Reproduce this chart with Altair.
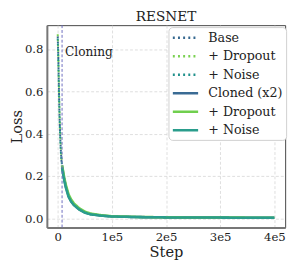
import altair as alt
import pandas as pd

# ---- data ----
steps_base = [0, 1000, 2000, 3000, 4000, 5000, 6000, 7000, 8000]
base = [0.86, 0.77, 0.64, 0.52, 0.43, 0.36, 0.31, 0.27, 0.25]
base_dropout = [0.87, 0.78, 0.66, 0.54, 0.45, 0.38, 0.32, 0.28, 0.26]
base_noise = [0.85, 0.76, 0.63, 0.51, 0.42, 0.35, 0.30, 0.27, 0.25]

steps_clone = [8000, 10000, 12000, 15000, 20000, 25000, 30000, 40000, 50000,
               60000, 80000, 100000, 150000, 200000, 250000, 300000, 350000, 400000]
cloned = [0.25, 0.215, 0.185, 0.15, 0.105, 0.080, 0.064, 0.042, 0.028,
          0.020, 0.013, 0.009, 0.006, 0.0045, 0.004, 0.0035, 0.003, 0.003]
cloned_dropout = [0.25, 0.222, 0.193, 0.158, 0.113, 0.088, 0.070, 0.047, 0.032,
                  0.023, 0.015, 0.010, 0.0065, 0.005, 0.0042, 0.0037, 0.0033, 0.0032]
cloned_noise = [0.24, 0.208, 0.180, 0.145, 0.102, 0.078, 0.062, 0.041, 0.027,
                0.019, 0.0125, 0.0088, 0.0058, 0.0045, 0.004, 0.0035, 0.003, 0.003]

clone_step = 8000
series_names = ["Base", "+ Dropout", "+ Noise", "Cloned (x2)", "+ Dropout ", "+ Noise "]
series_colors = ["#35688f", "#7ad151", "#21918c", "#3a6b94", "#70cf4e", "#2a9d8c"]
dot = [2, 3.3]
solid = [1, 0]
series_dash = [dot, dot, dot, solid, solid, solid]

x_ticks = [0, 100000, 200000, 300000, 400000]
y_ticks = [0.0, 0.2, 0.4, 0.6, 0.8]

rows = []
for name, vals in zip(series_names[:3], [base, base_dropout, base_noise]):
    for s, v in zip(steps_base, vals):
        rows.append({"series": name, "step": s, "loss": v, "kind": "pre"})
for name, vals in zip(series_names[3:], [cloned, cloned_dropout, cloned_noise]):
    for s, v in zip(steps_clone, vals):
        rows.append({"series": name, "step": s, "loss": v, "kind": "post"})
df = pd.DataFrame(rows)

FONT = "DejaVu Serif, Liberation Serif, serif"

legend = alt.Legend(orient="none", legendX=125, legendY=2,
                    symbolType="M-1,0H3", symbolSize=169, symbolStrokeWidth=2.5,
                    labelOffset=22, rowPadding=4, padding=3)

x_enc = alt.X("step:Q", title="Step",
              scale=alt.Scale(domain=[-20000, 420000], nice=False, zero=False),
              axis=alt.Axis(values=x_ticks,
                            labelExpr="datum.value == 0 ? '0' : (datum.value / 100000) + 'e5'"))
y_enc = alt.Y("loss:Q", title="Loss",
              scale=alt.Scale(domain=[-0.043, 0.913], nice=False, zero=False),
              axis=alt.Axis(values=y_ticks, format=".1f"))
color_enc = alt.Color("series:N", title=None,
                      scale=alt.Scale(domain=series_names, range=series_colors),
                      legend=legend)
dash_enc = alt.StrokeDash("series:N", title=None,
                          scale=alt.Scale(domain=series_names, range=series_dash),
                          legend=legend)

pre = alt.Chart(df[df.kind == "pre"]).mark_line(strokeWidth=2).encode(
    x=x_enc, y=y_enc, color=color_enc, strokeDash=dash_enc, detail="series:N")
post = alt.Chart(df[df.kind == "post"]).mark_line(strokeWidth=2.6).encode(
    x=x_enc, y=y_enc, color=color_enc, strokeDash=dash_enc, detail="series:N")

rule_df = pd.DataFrame({"step": [clone_step]})
rule = alt.Chart(rule_df).mark_rule(color="#6b6bbf", strokeWidth=1, strokeDash=[3, 2]).encode(
    x=alt.X("step:Q"))

text_df = pd.DataFrame({"step": [clone_step], "loss": [0.765], "label": ["Cloning"]})
text = alt.Chart(text_df).mark_text(align="left", baseline="alphabetic", dx=3,
                                    font=FONT, fontSize=12.5, color="#222").encode(
    x="step:Q", y="loss:Q", text="label:N")

chart = alt.layer(pre, post, rule, text).properties(
    width=245, height=208,
    title=alt.TitleParams("RESNET", font=FONT, fontSize=14, fontWeight="normal",
                          color="#222", offset=1),
    autosize=alt.AutoSizeParams(type="none"),
    padding={"left": 40, "top": 14, "right": 6, "bottom": 36},
).configure_view(
    stroke="#444", strokeWidth=1
).configure_axis(
    labelFont=FONT, labelFontSize=12, labelColor="#222",
    titleFont=FONT, titleFontSize=15, titleFontWeight="normal", titleColor="#222",
    grid=True, gridColor="#d6d6d6", gridDash=[3, 2], gridWidth=0.8,
    domainColor="#777", domainWidth=2, ticks=False, labelPadding=4,
).configure_axisX(
    titlePadding=3
).configure_axisY(
    titlePadding=0
).configure_legend(
    labelFont=FONT, labelFontSize=13, labelColor="#222",
    strokeColor="#d0d0d0", cornerRadius=4, fillColor="white",
)

chart.save("out.html", embed_options={"renderer": "svg", "actions": False})
